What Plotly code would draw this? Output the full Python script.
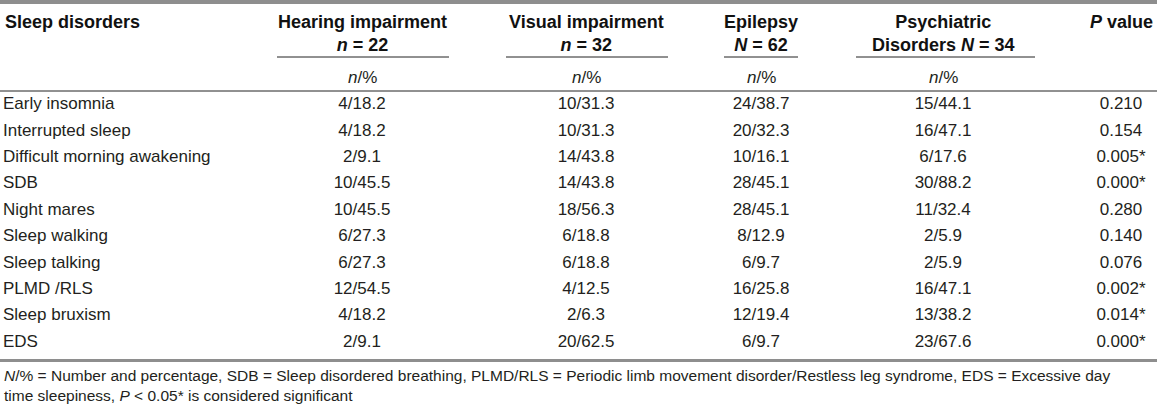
import plotly.graph_objects as go

# ---- data ----
disorders = ["Early insomnia", "Interrupted sleep", "Difficult morning awakening", "SDB",
             "Night mares", "Sleep walking", "Sleep talking", "PLMD /RLS", "Sleep bruxism", "EDS"]
hearing = ["4/18.2", "4/18.2", "2/9.1", "10/45.5", "10/45.5", "6/27.3", "6/27.3", "12/54.5", "4/18.2", "2/9.1"]
visual = ["10/31.3", "10/31.3", "14/43.8", "14/43.8", "18/56.3", "6/18.8", "6/18.8", "4/12.5", "2/6.3", "20/62.5"]
epilepsy = ["24/38.7", "20/32.3", "10/16.1", "28/45.1", "28/45.1", "8/12.9", "6/9.7", "16/25.8", "12/19.4", "6/9.7"]
psychiatric = ["15/44.1", "16/47.1", "6/17.6", "30/88.2", "11/32.4", "2/5.9", "2/5.9", "16/47.1", "13/38.2", "23/67.6"]
p_values = ["0.210", "0.154", "0.005*", "0.000*", "0.280", "0.140", "0.076", "0.002*", "0.014*", "0.000*"]

group_headers = ["Hearing impairment<br><i>n</i> = 22", "Visual impairment<br><i>n</i> = 32",
                 "Epilepsy<br><i>N</i> = 62", "Psychiatric<br>Disorders <i>N</i> = 34"]
sub_header = "<i>n</i>/%"
first_header = "Sleep disorders"
p_header = "<i>P</i> value"
footnote = ("<i>N</i>/% = Number and percentage, SDB = Sleep disordered breathing, PLMD/RLS = Periodic limb "
            "movement disorder/Restless leg syndrome, EDS = Excessive day<br>time sleepiness, "
            "<i>P</i> < 0.05* is considered significant")

# ---- layout constants (pixels) ----
W, H = 1159, 406
col_centers = [362, 586, 761, 943]
col_spans = [(277, 449), (506, 668), (724, 798), (856, 1035)]
p_center = 1121
first_row_y = 105
row_h = 26.4
rows_y = [first_row_y + row_h * i for i in range(len(disorders))]

TEXT = "#231f20"
GRAY = "#8e8e8e"
body_font = dict(family="Liberation Sans, Arial, sans-serif", size=17, color=TEXT)
head_font = dict(family="Liberation Sans, Arial, sans-serif", size=18, color="#111111")

fig = go.Figure()

fig.add_trace(go.Scatter(x=[3] * len(disorders), y=rows_y, text=disorders, mode="text",
                         textposition="middle right", textfont=body_font, hoverinfo="skip"))
for cx, vals in zip(col_centers, [hearing, visual, epilepsy, psychiatric]):
    fig.add_trace(go.Scatter(x=[cx] * len(vals), y=rows_y, text=vals, mode="text",
                             textposition="middle center", textfont=body_font, hoverinfo="skip"))
fig.add_trace(go.Scatter(x=[p_center] * len(p_values), y=rows_y, text=p_values, mode="text",
                         textposition="middle center", textfont=body_font, hoverinfo="skip"))

ann = []
ann.append(dict(x=3, y=22, text="<b>" + first_header + "</b>", xanchor="left", yanchor="middle",
                showarrow=False, font=head_font))
for cx, t in zip(col_centers, group_headers):
    ann.append(dict(x=cx, y=33.5, text="<b>" + t + "</b>", xanchor="center", yanchor="middle",
                    align="center", showarrow=False, font=head_font))
    ann.append(dict(x=cx, y=77, text=sub_header, xanchor="center", yanchor="middle",
                    showarrow=False, font=body_font))
ann.append(dict(x=p_center, y=22, text="<b>" + p_header + "</b>", xanchor="center", yanchor="middle",
                showarrow=False, font=head_font))
ann.append(dict(x=2, y=385, text=footnote, xanchor="left", yanchor="middle", align="left",
                showarrow=False, font=dict(family="Liberation Sans, Arial, sans-serif", size=15.5, color=TEXT)))

shapes = [
    dict(type="rect", x0=0, x1=1157, y0=0, y1=4, fillcolor=GRAY, line=dict(width=0)),
    dict(type="line", x0=0, x1=1157, y0=91, y1=91, line=dict(color="#222222", width=1)),
    dict(type="line", x0=0, x1=1157, y0=360.5, y1=360.5, line=dict(color=GRAY, width=3)),
]
for a, b in col_spans:
    shapes.append(dict(type="line", x0=a, x1=b, y0=57, y1=57, line=dict(color="#222222", width=1)))

fig.update_layout(
    width=W, height=H, margin=dict(l=0, r=0, t=0, b=0),
    paper_bgcolor="white", plot_bgcolor="white", showlegend=False,
    xaxis=dict(range=[0, W], visible=False, fixedrange=True),
    yaxis=dict(range=[H, 0], visible=False, fixedrange=True),
    annotations=ann, shapes=shapes,
)
fig.write_html("out.html", config={"displayModeBar": False},
               post_script="document.body.style.margin='0';document.body.style.padding='0';document.body.style.overflow='hidden';")
